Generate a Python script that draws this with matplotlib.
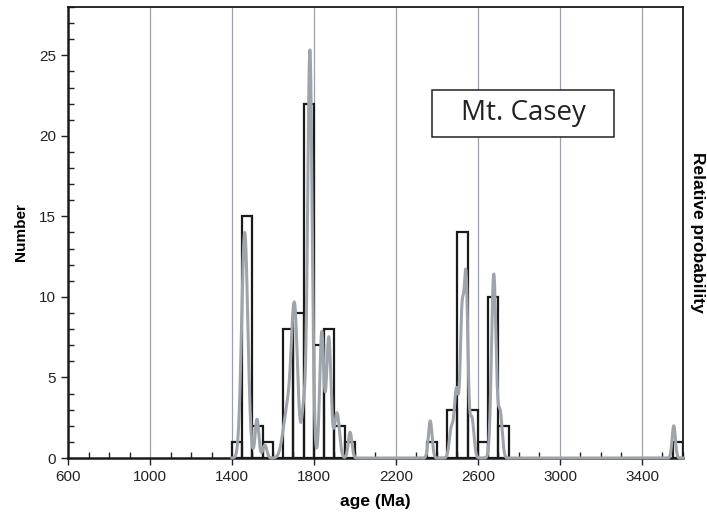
import matplotlib
matplotlib.use("Agg")
import matplotlib.pyplot as plt
from matplotlib.patches import Rectangle
from matplotlib.ticker import MultipleLocator
import numpy as np

plt.rcParams['font.family'] = ['Liberation Sans', 'DejaVu Sans']

# histogram: 50 Ma bins, left edges and counts
bin_left = [1400, 1450, 1500, 1550, 1600, 1650, 1700, 1750, 1800, 1850, 1900, 1950,
            2350, 2400, 2450, 2500, 2550, 2600, 2650, 2700,
            3550]
counts = [1, 15, 2, 1, 0, 8, 9, 22, 7, 8, 2, 1,
          1, 0, 3, 14, 3, 1, 10, 2,
          1]
bin_width = 50

# probability curve: peaks (age, height, spread)
peak_age = [1462, 1522, 1560, 1670, 1705, 1750, 1780, 1838, 1872, 1912, 1976,
            2367, 2470, 2495, 2522, 2542, 2570, 2677, 2708, 3555]
peak_height = [14.0, 2.4, 0.8, 3.0, 9.0, 3.0, 25.3, 7.8, 7.5, 2.8, 1.6,
               2.3, 1.8, 4.2, 8.6, 10.8, 2.5, 11.4, 2.8, 2.0]
peak_sigma = [15, 9, 10, 20, 15, 10, 11, 10, 11, 12, 9,
              9, 10, 10, 9, 9, 10, 11, 10, 8]

title = "Mt. Casey"

ages = np.linspace(1400, 3600, 2201)
prob = np.zeros_like(ages)
for a, h, s in zip(peak_age, peak_height, peak_sigma):
    prob += h * np.exp(-0.5 * ((ages - a) / s) ** 2)

fig = plt.figure(figsize=(7.07, 5.29), dpi=100)
ax = fig.add_axes([0.0962, 0.1342, 0.8698, 0.8526])

ax.bar(bin_left, counts, width=bin_width, align='edge', fill=False,
       edgecolor='#1a1a1a', linewidth=1.6, zorder=2)

ax.set_xlim(600, 3600)
ax.set_ylim(0, 28)
ax.xaxis.set_minor_locator(MultipleLocator(100))
ax.yaxis.set_major_locator(MultipleLocator(5))
ax.yaxis.set_minor_locator(MultipleLocator(1))
ax.set_xticks(np.arange(600, 3401, 400))
ax.tick_params(axis='both', which='major', direction='out', length=5, width=1,
               labelsize=11, colors='#222222')
ax.tick_params(axis='both', which='minor', direction='in', length=4, width=1,
               color='#222222')

for gx in range(1000, 3401, 400):
    ax.axvline(gx, color='#9ba0aa', linewidth=0.9, zorder=1)

for side in ['left', 'bottom']:
    ax.spines[side].set_linewidth(1.8)
for side in ['top', 'right']:
    ax.spines[side].set_linewidth(1.3)
for sp in ax.spines.values():
    sp.set_color('#1a1a1a')

ax.set_xlabel('age (Ma)', fontsize=12.5, fontweight='bold', labelpad=7)
ax.set_ylabel('Number', fontsize=11, fontweight='bold', labelpad=8)

ax2 = ax.twinx()
ax2.set_ylim(0, 28)
ax2.plot(ages, prob, color='#9fa4aa', linewidth=2.2, clip_on=False, zorder=3)
ax2.set_yticks([])
for sp in ax2.spines.values():
    sp.set_visible(False)
ax2.set_ylabel('Relative probability', fontsize=12.5, fontweight='bold',
               rotation=270, labelpad=16)

ax.add_patch(Rectangle((0.592, 0.712), 0.296, 0.104, transform=ax.transAxes,
                       fill=True, facecolor='white', edgecolor='#222222',
                       linewidth=1.1, zorder=5))
ax.text(0.740, 0.764, title, transform=ax.transAxes, ha='center', va='center',
        fontsize=20, family=['Open Sans', 'DejaVu Sans'], color='#222222', zorder=6)

fig.savefig('out.png', dpi=100)
